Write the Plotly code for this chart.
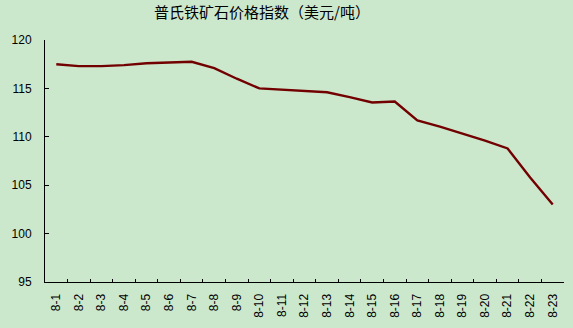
import plotly.graph_objects as go

dates = ["8-1", "8-2", "8-3", "8-4", "8-5", "8-6", "8-7", "8-8", "8-9", "8-10", "8-11", "8-12",
         "8-13", "8-14", "8-15", "8-16", "8-17", "8-18", "8-19", "8-20", "8-21", "8-22", "8-23"]
prices = [117.5, 117.3, 117.3, 117.4, 117.6, 117.7, 117.75, 117.1, 116.0, 115.0, 114.85, 114.7,
          114.6, 114.1, 113.55, 113.65, 111.7, 111.05, 110.35, 109.6, 108.8, 105.8, 103.0]

fig = go.Figure()
fig.add_trace(go.Scatter(x=dates, y=prices, mode="lines",
                         line=dict(color="#720000", width=2.4)))

bg = "#cce8cc"
fig.update_layout(
    width=573, height=328,
    margin=dict(l=45, r=9, t=40, b=46),
    paper_bgcolor=bg, plot_bgcolor=bg,
    showlegend=False,
    title=dict(text="普氏铁矿石价格指数（美元/吨）", x=262/573, xanchor="center",
               y=1 - 13/328, yanchor="middle", yref="container",
               font=dict(family="Noto Sans CJK SC", size=15, color="#000")),
    font=dict(family="Liberation Sans", size=11, color="#000"),
)
fig.update_xaxes(type="category", tickson="boundaries", ticks="inside", ticklen=3,
                 tickcolor="#000", showline=True, linecolor="#000", linewidth=1,
                 showgrid=False, tickangle=-90, ticklabelstandoff=6,
                 tickfont=dict(size=12),
                 range=[-0.5, len(dates) - 0.5], zeroline=False)
fig.update_yaxes(range=[95, 120], dtick=5, ticks="inside", ticklen=4, tickcolor="#000",
                 showline=True, linecolor="#000", linewidth=1, showgrid=False,
                 zeroline=False, ticklabelstandoff=10, tickfont=dict(size=12))

fig.write_html("out.html")
